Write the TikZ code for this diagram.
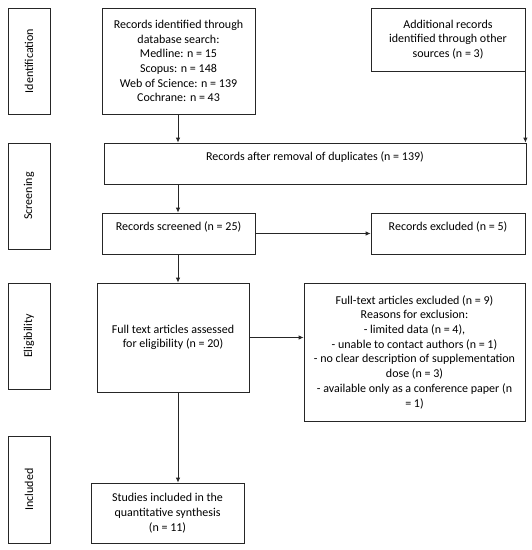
\documentclass[tikz,border=0pt]{standalone}
\usepackage{fontspec}
\setmainfont{Carlito}
\usetikzlibrary{arrows.meta, positioning}

\tikzset{
	box/.style={draw=black!85, line width=0.8pt, align=center, inner sep=2pt, font=\fontsize{12}{14.7}\selectfont},
	stage/.style={box, minimum width=42pt, minimum height=106pt},
	flow/.style={draw=black!85, line width=0.8pt, -{Latex[length=5pt,width=4.5pt]}}
}

\begin{document}
\begin{tikzpicture}[x=1pt, y=-1pt]
	\useasboundingbox (0,0) rectangle (532,550);
	% phases on the left
	\node[stage] (ident) at (29,61) {\rotatebox{90}{Identification}};
	\node[stage] (screen) at (29,196) {\rotatebox{90}{Screening}};
	\node[stage] (elig) at (29,336) {\rotatebox{90}{Eligibility}};
	\node[stage, minimum height=107pt] (incl) at (29,489.5) {\rotatebox{90}{Included}};
	% boxes
	\node[box, minimum width=153pt, minimum height=106pt] (db) at (178.5,61) {Records identified through\\database search:\\Medline: n = 15\\Scopus: n = 148\\Web of Science: n = 139\\Cochrane: n = 43};
	\node[box, minimum width=154pt, minimum height=63pt] (other) at (448,39.5) {Additional records\\identified through other\\sources (n = 3)};
	\node[box, minimum width=422pt, minimum height=41pt] (dup) at (315,163.5) {Records after removal of duplicates (n = 139)\\[1pt]\mbox{}};
	\node[box, minimum width=153pt, minimum height=41pt] (screened) at (178.5,233.5) {Records screened (n = 25)\\[1pt]\mbox{}};
	\node[box, minimum width=154pt, minimum height=41pt] (excl) at (448,233.5) {Records excluded (n = 5)\\[1pt]\mbox{}};
	\node[box, minimum width=152pt, minimum height=109pt] (full) at (173,337.5) {Full text articles assessed\\for eligibility (n = 20)};
	\node[box, minimum width=221pt, minimum height=138pt] (fullexcl) at (414.5,352) {Full-text articles excluded (n = 9)\\Reasons for exclusion:\\- limited data (n = 4),\\- unable to contact authors (n = 1)\\- no clear description of supplementation\\dose (n = 3)\\- available only as a conference paper (n\\= 1)};
	\node[box, minimum width=153pt, minimum height=60pt] (incl box) at (167.5,513) {Studies included in the\\quantitative synthesis\\(n = 11)};
	% arrows
	\coordinate (mid) at (178,0);
	\draw[flow] (mid |- db.south) -- (mid |- dup.north);
	\draw[flow] (other.south east) -- (other.south east |- dup.north);
	\draw[flow] (mid |- dup.south) -- (mid |- screened.north);
	\draw[flow] (screened.east) -- (excl.west);
	\draw[flow] (mid |- screened.south) -- (mid |- full.north);
	\draw[flow] (full.east) -- (full.east -| fullexcl.west);
	\draw[flow] (mid |- full.south) -- (mid |- incl box.north);
\end{tikzpicture}
\end{document}
